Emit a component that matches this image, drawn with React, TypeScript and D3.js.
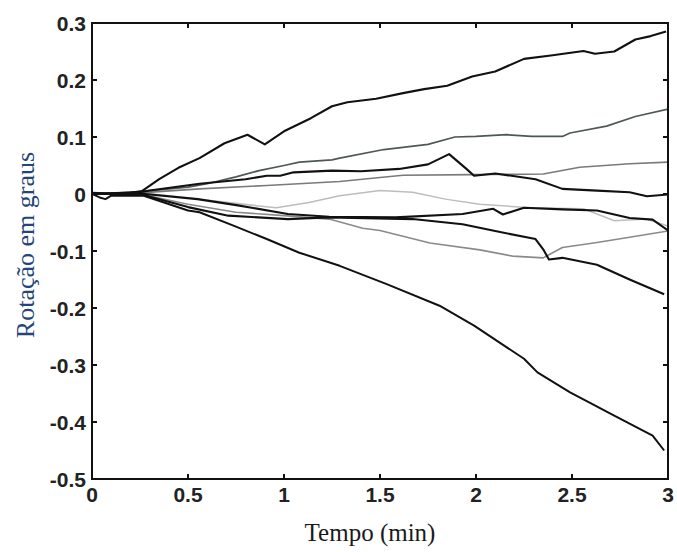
import React from "react";
import * as d3 from "d3";

type Pt = [number, number];

const xTicks = [0, 0.5, 1, 1.5, 2, 2.5, 3];
const yTicks = [0.3, 0.2, 0.1, 0, -0.1, -0.2, -0.3, -0.4, -0.5];
const xLabels = ["0", "0.5", "1", "1.5", "2", "2.5", "3"];
const yLabels = ["0.3", "0.2", "0.1", "0", "-0.1", "-0.2", "-0.3", "-0.4", "-0.5"];

const series1: Pt[] = [[0,0.002],[0.1,0.001],[0.2,0.002],[0.26,0.005],[0.35,0.026],[0.45,0.046],[0.56,0.063],[0.69,0.089],[0.81,0.104],[0.9,0.087],[1.0,0.11],[1.14,0.133],[1.25,0.154],[1.33,0.161],[1.48,0.167],[1.62,0.177],[1.73,0.184],[1.85,0.19],[1.98,0.206],[2.1,0.215],[2.25,0.237],[2.39,0.243],[2.56,0.251],[2.62,0.246],[2.72,0.25],[2.83,0.271],[2.91,0.277],[2.99,0.285]];
const series2: Pt[] = [[0,0],[0.25,0.004],[0.5,0.012],[0.6,0.018],[0.75,0.03],[0.87,0.041],[1.0,0.05],[1.08,0.056],[1.25,0.06],[1.29,0.063],[1.52,0.078],[1.75,0.087],[1.89,0.1],[2.0,0.101],[2.16,0.104],[2.29,0.101],[2.45,0.101],[2.49,0.107],[2.68,0.119],[2.83,0.136],[3.0,0.149]];
const series3: Pt[] = [[0,0],[0.25,0.003],[0.3,0.006],[0.56,0.018],[0.8,0.026],[0.91,0.032],[0.98,0.032],[1.05,0.038],[1.25,0.041],[1.4,0.04],[1.6,0.044],[1.75,0.052],[1.86,0.07],[1.95,0.044],[1.99,0.032],[2.1,0.036],[2.31,0.026],[2.45,0.009],[2.63,0.006],[2.8,0.003],[2.89,-0.004],[3.0,-0.001]];
const series4: Pt[] = [[0,0],[0.25,0.002],[0.56,0.009],[0.91,0.015],[1.29,0.022],[1.5,0.029],[1.62,0.033],[1.98,0.034],[2.35,0.035],[2.54,0.047],[2.8,0.053],[3.0,0.056]];
const series5: Pt[] = [[0,0],[0.25,0.002],[0.4,-0.003],[0.56,-0.009],[0.87,-0.021],[0.96,-0.024],[1.13,-0.015],[1.29,-0.003],[1.5,0.006],[1.67,0.003],[1.84,-0.009],[2.02,-0.018],[2.28,-0.024],[2.56,-0.026],[2.72,-0.047],[2.89,-0.044],[3.0,-0.056]];
const series6: Pt[] = [[0,0],[0.25,0.001],[0.55,-0.009],[0.76,-0.02],[1.02,-0.035],[1.235,-0.04],[1.58,-0.041],[1.93,-0.035],[2.09,-0.026],[2.14,-0.036],[2.25,-0.024],[2.45,-0.027],[2.63,-0.029],[2.8,-0.042],[2.92,-0.045],[3.0,-0.064]];
const series7: Pt[] = [[0,0],[0.25,0],[0.5,-0.023],[0.71,-0.038],[1.02,-0.044],[1.235,-0.041],[1.67,-0.044],[1.93,-0.053],[2.1,-0.065],[2.31,-0.079],[2.35,-0.097],[2.38,-0.115],[2.45,-0.112],[2.63,-0.124],[2.8,-0.15],[2.98,-0.176]];
const series8: Pt[] = [[0,0],[0.25,0],[0.5,-0.018],[0.75,-0.032],[1.0,-0.038],[1.235,-0.044],[1.41,-0.06],[1.5,-0.064],[1.76,-0.086],[2.02,-0.098],[2.19,-0.109],[2.35,-0.112],[2.45,-0.094],[2.63,-0.085],[2.8,-0.076],[3.0,-0.065]];
const series9: Pt[] = [[0,0],[0.04,-0.006],[0.07,-0.009],[0.1,-0.003],[0.27,-0.003],[0.5,-0.029],[0.56,-0.032],[0.74,-0.056],[0.91,-0.079],[1.08,-0.103],[1.29,-0.126],[1.535,-0.158],[1.81,-0.196],[1.99,-0.231],[2.25,-0.289],[2.32,-0.313],[2.49,-0.348],[2.72,-0.389],[2.92,-0.424],[2.98,-0.45]];

const seriesList = [
  { data: series8, color: "#8a8a8a", w: 1.6 },
  { data: series5, color: "#bdbdbd", w: 1.5 },
  { data: series4, color: "#7a7a7a", w: 1.6 },
  { data: series2, color: "#4f5757", w: 1.7 },
  { data: series1, color: "#111", w: 2.1 },
  { data: series3, color: "#111", w: 2.1 },
  { data: series6, color: "#111", w: 2.1 },
  { data: series7, color: "#111", w: 2.1 },
  { data: series9, color: "#111", w: 2.0 },
];

export default function App() {
  const W = 677, H = 552;
  const left = 92, right = 668, top = 23, bottom = 479;
  const x = d3.scaleLinear().domain([0, 3]).range([left, right]);
  const y = d3.scaleLinear().domain([-0.5, 0.3]).range([bottom, top]);
  const line = d3.line<Pt>().x((d) => x(d[0])).y((d) => y(d[1]));
  const tl = 5;
  const tickFont = { fontFamily: "'Liberation Sans', Arial, sans-serif", fontWeight: 700, fontSize: 21, fill: "#222" } as const;
  return (
    <svg width={W} height={H} style={{ position: "absolute", left: 0, top: 0, background: "#fff" }}>
      <defs>
        <clipPath id="plot"><rect x={left} y={top} width={right - left} height={bottom - top} /></clipPath>
      </defs>
      <rect x={0} y={0} width={W} height={H} fill="#fff" />
      <g clipPath="url(#plot)" fill="none" strokeLinejoin="round">
        {seriesList.map((s, i) => (
          <path key={i} d={line(s.data) || ""} stroke={s.color} strokeWidth={s.w} />
        ))}
      </g>
      <rect x={left} y={top} width={right - left} height={bottom - top} fill="none" stroke="#111" strokeWidth={2} />
      {xTicks.map((t, i) => (
        <g key={"x" + i}>
          <line x1={x(t)} x2={x(t)} y1={bottom} y2={bottom - tl} stroke="#111" strokeWidth={2} />
          <line x1={x(t)} x2={x(t)} y1={top} y2={top + tl} stroke="#111" strokeWidth={2} />
          <text x={x(t)} y={bottom + 23} textAnchor="middle" {...tickFont}>{xLabels[i]}</text>
        </g>
      ))}
      {yTicks.map((t, i) => (
        <g key={"y" + i}>
          <line x1={left} x2={left + tl} y1={y(t)} y2={y(t)} stroke="#111" strokeWidth={2} />
          <line x1={right} x2={right - tl} y1={y(t)} y2={y(t)} stroke="#111" strokeWidth={2} />
          <text x={left - 6} y={y(t)} dy="0.36em" textAnchor="end" {...tickFont}>{yLabels[i]}</text>
        </g>
      ))}
      <text x={370} y={541} textAnchor="middle" fontFamily="'Liberation Serif', 'Times New Roman', serif" fontSize={25} fill="#1a1a1a">Tempo (min)</text>
      <text transform="translate(34,245) rotate(-90)" textAnchor="middle" fontFamily="'Liberation Serif', 'Times New Roman', serif" fontSize={26} fill="#24457a">Rotação em graus</text>
    </svg>
  );
}
